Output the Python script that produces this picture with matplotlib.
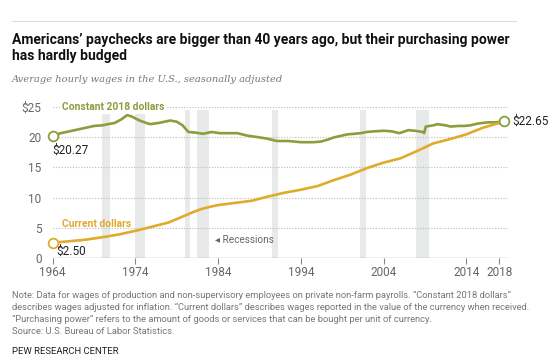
import matplotlib
matplotlib.use("Agg")
import matplotlib.pyplot as plt
from matplotlib.lines import Line2D

# ---- data ----
years_const = [1964, 1965, 1966, 1967, 1968, 1969, 1970, 1970.7, 1971.5, 1972.3, 1973.0, 1973.5,
               1974.5, 1975.3, 1975.8, 1976.8, 1977.5, 1978.2, 1979.0, 1979.7, 1980.4, 1981.2,
               1982.2, 1983.2, 1984.2, 1985.2, 1986.3, 1987.5, 1988.5, 1989.9, 1991.1, 1992.5,
               1994.0, 1995.5, 1996.4, 1997.2, 1998.0, 1999.0, 1999.6, 2000.5, 2001.2, 2002.0,
               2002.8, 2004.0, 2005.0, 2005.9, 2007.0, 2007.8, 2008.7, 2008.9, 2009.1, 2010.0,
               2010.5, 2011.5, 2012.1, 2013.0, 2013.7, 2014.5, 2015.4, 2016.6, 2017.5, 2018.6]
const_2018 = [20.27, 20.7, 21.0, 21.3, 21.6, 21.9, 22.0, 22.2, 22.4, 23.0, 23.7, 23.5,
              22.8, 22.4, 22.2, 22.4, 22.6, 22.8, 22.6, 22.0, 20.9, 20.8,
              20.6, 20.9, 20.7, 20.7, 20.7, 20.3, 20.1, 19.8, 19.4, 19.4,
              19.2, 19.2, 19.3, 19.6, 20.0, 20.3, 20.5, 20.6, 20.7, 20.9,
              21.0, 21.1, 21.0, 20.7, 21.2, 21.1, 20.9, 20.7, 21.8, 22.0,
              22.2, 22.0, 21.8, 21.9, 21.9, 22.0, 22.3, 22.5, 22.5, 22.65]

years_cur = [1964, 1966, 1968, 1970, 1972, 1974, 1976, 1978, 1980, 1981, 1982, 1983, 1984,
             1986, 1988, 1990, 1992, 1994, 1996, 1998, 2000, 2002, 2004, 2006, 2008, 2010,
             2012, 2014, 2016, 2018.6]
current = [2.50, 2.73, 3.0, 3.40, 3.86, 4.47, 5.15, 5.85, 7.0, 7.6, 8.1, 8.45, 8.75,
           9.1, 9.45, 10.15, 10.8, 11.3, 11.9, 12.9, 13.8, 14.9, 15.8, 16.5, 17.7, 19.0,
           19.7, 20.5, 21.6, 22.65]

recessions = [(1969.9, 1970.9), (1973.9, 1975.2), (1980.0, 1980.6), (1981.5, 1982.9),
              (1990.5, 1991.2), (2001.2, 2001.9), (2007.9, 2009.5)]

xticks = [1964, 1974, 1984, 1994, 2004, 2014, 2018]
yticks = [0, 5, 10, 15, 20, 25]
ytick_labels = ["0", "5", "10", "15", "20", "$25"]

GREEN = "#8a9e3d"
GOLD = "#e0aa2c"
GRAY = "#666666"

plt.rcParams["font.family"] = ["Roboto", "DejaVu Sans"]

fig = plt.figure(figsize=(5.58, 3.64), dpi=100)
ax = fig.add_axes([52.7 / 558, 106.3 / 364, 455 / 558, 150.4 / 364])

for a, b in recessions:
    ax.axvspan(a, b, ymax=0.98, color="#e8e9e9", lw=0, zorder=0)

for y in yticks[1:]:
    ax.axhline(y, color="#bbbbbb", lw=0.8, ls=(0, (1, 1.5)), zorder=1)
ax.axhline(0, color="#aaaaaa", lw=1.0, zorder=1)

ax.plot(years_const, const_2018, color=GREEN, lw=1.9, zorder=3, solid_joinstyle="round")
ax.plot(years_cur, current, color=GOLD, lw=1.9, zorder=3, solid_joinstyle="round")

for xs, ys, c in [(years_const, const_2018, GREEN), (years_cur, current, GOLD)]:
    ax.plot([xs[0]], [ys[0]], "o", ms=7, mfc="white", mec=c, mew=1.3, zorder=5, clip_on=False)
ax.plot([years_const[-1]], [const_2018[-1]], "o", ms=7, mfc="white", mec=GREEN, mew=1.3,
        zorder=6, clip_on=False)

ax.set_xlim(1964, 2019)
ax.set_ylim(0, 25)
for s in ax.spines.values():
    s.set_visible(False)
ax.set_xticks(xticks)
ax.set_xticklabels([str(x) for x in xticks])
ax.set_yticks(yticks)
ax.set_yticklabels(ytick_labels)
ax.tick_params(axis="x", length=4, width=0.8, color="#888888", labelsize=8.5,
               labelcolor=GRAY, pad=2)
ax.tick_params(axis="y", length=0, labelsize=8.5, labelcolor=GRAY, pad=8)

# series labels
ax.text(1965.1, 25, "Constant 2018 dollars", color=GREEN, fontsize=7.4, fontweight="bold",
        va="center", ha="left", zorder=4,
        bbox=dict(facecolor="white", edgecolor="none", pad=1))
ax.text(1965.1, 5.6, "Current dollars", color=GOLD, fontsize=7.4, fontweight="bold",
        va="center", ha="left", zorder=4)
ax.text(1964.0, 17.8, "$20.27", color="#222222", fontsize=8.5, va="center", ha="left")
ax.text(1964.4, 1.0, "$2.50", color="#222222", fontsize=8.5, va="center", ha="left")
ax.text(2019.5, 22.65, "$22.65", color="#222222", fontsize=8.5, va="center", ha="left",
        clip_on=False)
ax.text(1983.6, 2.9, "\u25c2 Recessions", color=GRAY, fontsize=7.2, va="center", ha="left")

# header
fig.add_artist(Line2D([12 / 558, 516 / 558], [1 - 21 / 364, 1 - 21 / 364],
                      color="#dddddd", lw=0.8))
fig.text(12 / 558, 1 - 40 / 364, "Americans\u2019 paychecks are bigger than 40 years ago, but their purchasing power",
         fontsize=10, fontweight="bold", color="#111111", va="center", ha="left")
fig.text(12 / 558, 1 - 56 / 364, "has hardly budged",
         fontsize=10, fontweight="bold", color="#111111", va="center", ha="left")
fig.text(12 / 558, 1 - 80 / 364, "Average hourly wages in the U.S., seasonally adjusted",
         fontsize=7.1, fontstyle="italic", family="DejaVu Serif", color="#777777",
         va="center", ha="left")

notes = ["Note: Data for wages of production and non-supervisory employees on private non-farm payrolls. \u201cConstant 2018 dollars\u201d",
         "describes wages adjusted for inflation. \u201cCurrent dollars\u201d describes wages reported in the value of the currency when received.",
         "\u201cPurchasing power\u201d refers to the amount of goods or services that can be bought per unit of currency.",
         "Source: U.S. Bureau of Labor Statistics."]
for i, line in enumerate(notes):
    fig.text(12 / 558, 1 - (295 + 12.2 * i) / 364, line, fontsize=6.75, color="#777777",
             va="center", ha="left")
fig.text(12 / 558, 1 - 351 / 364, "PEW RESEARCH CENTER", fontsize=6.8, color="#222222",
         va="center", ha="left")

fig.savefig("out.png", dpi=100)
